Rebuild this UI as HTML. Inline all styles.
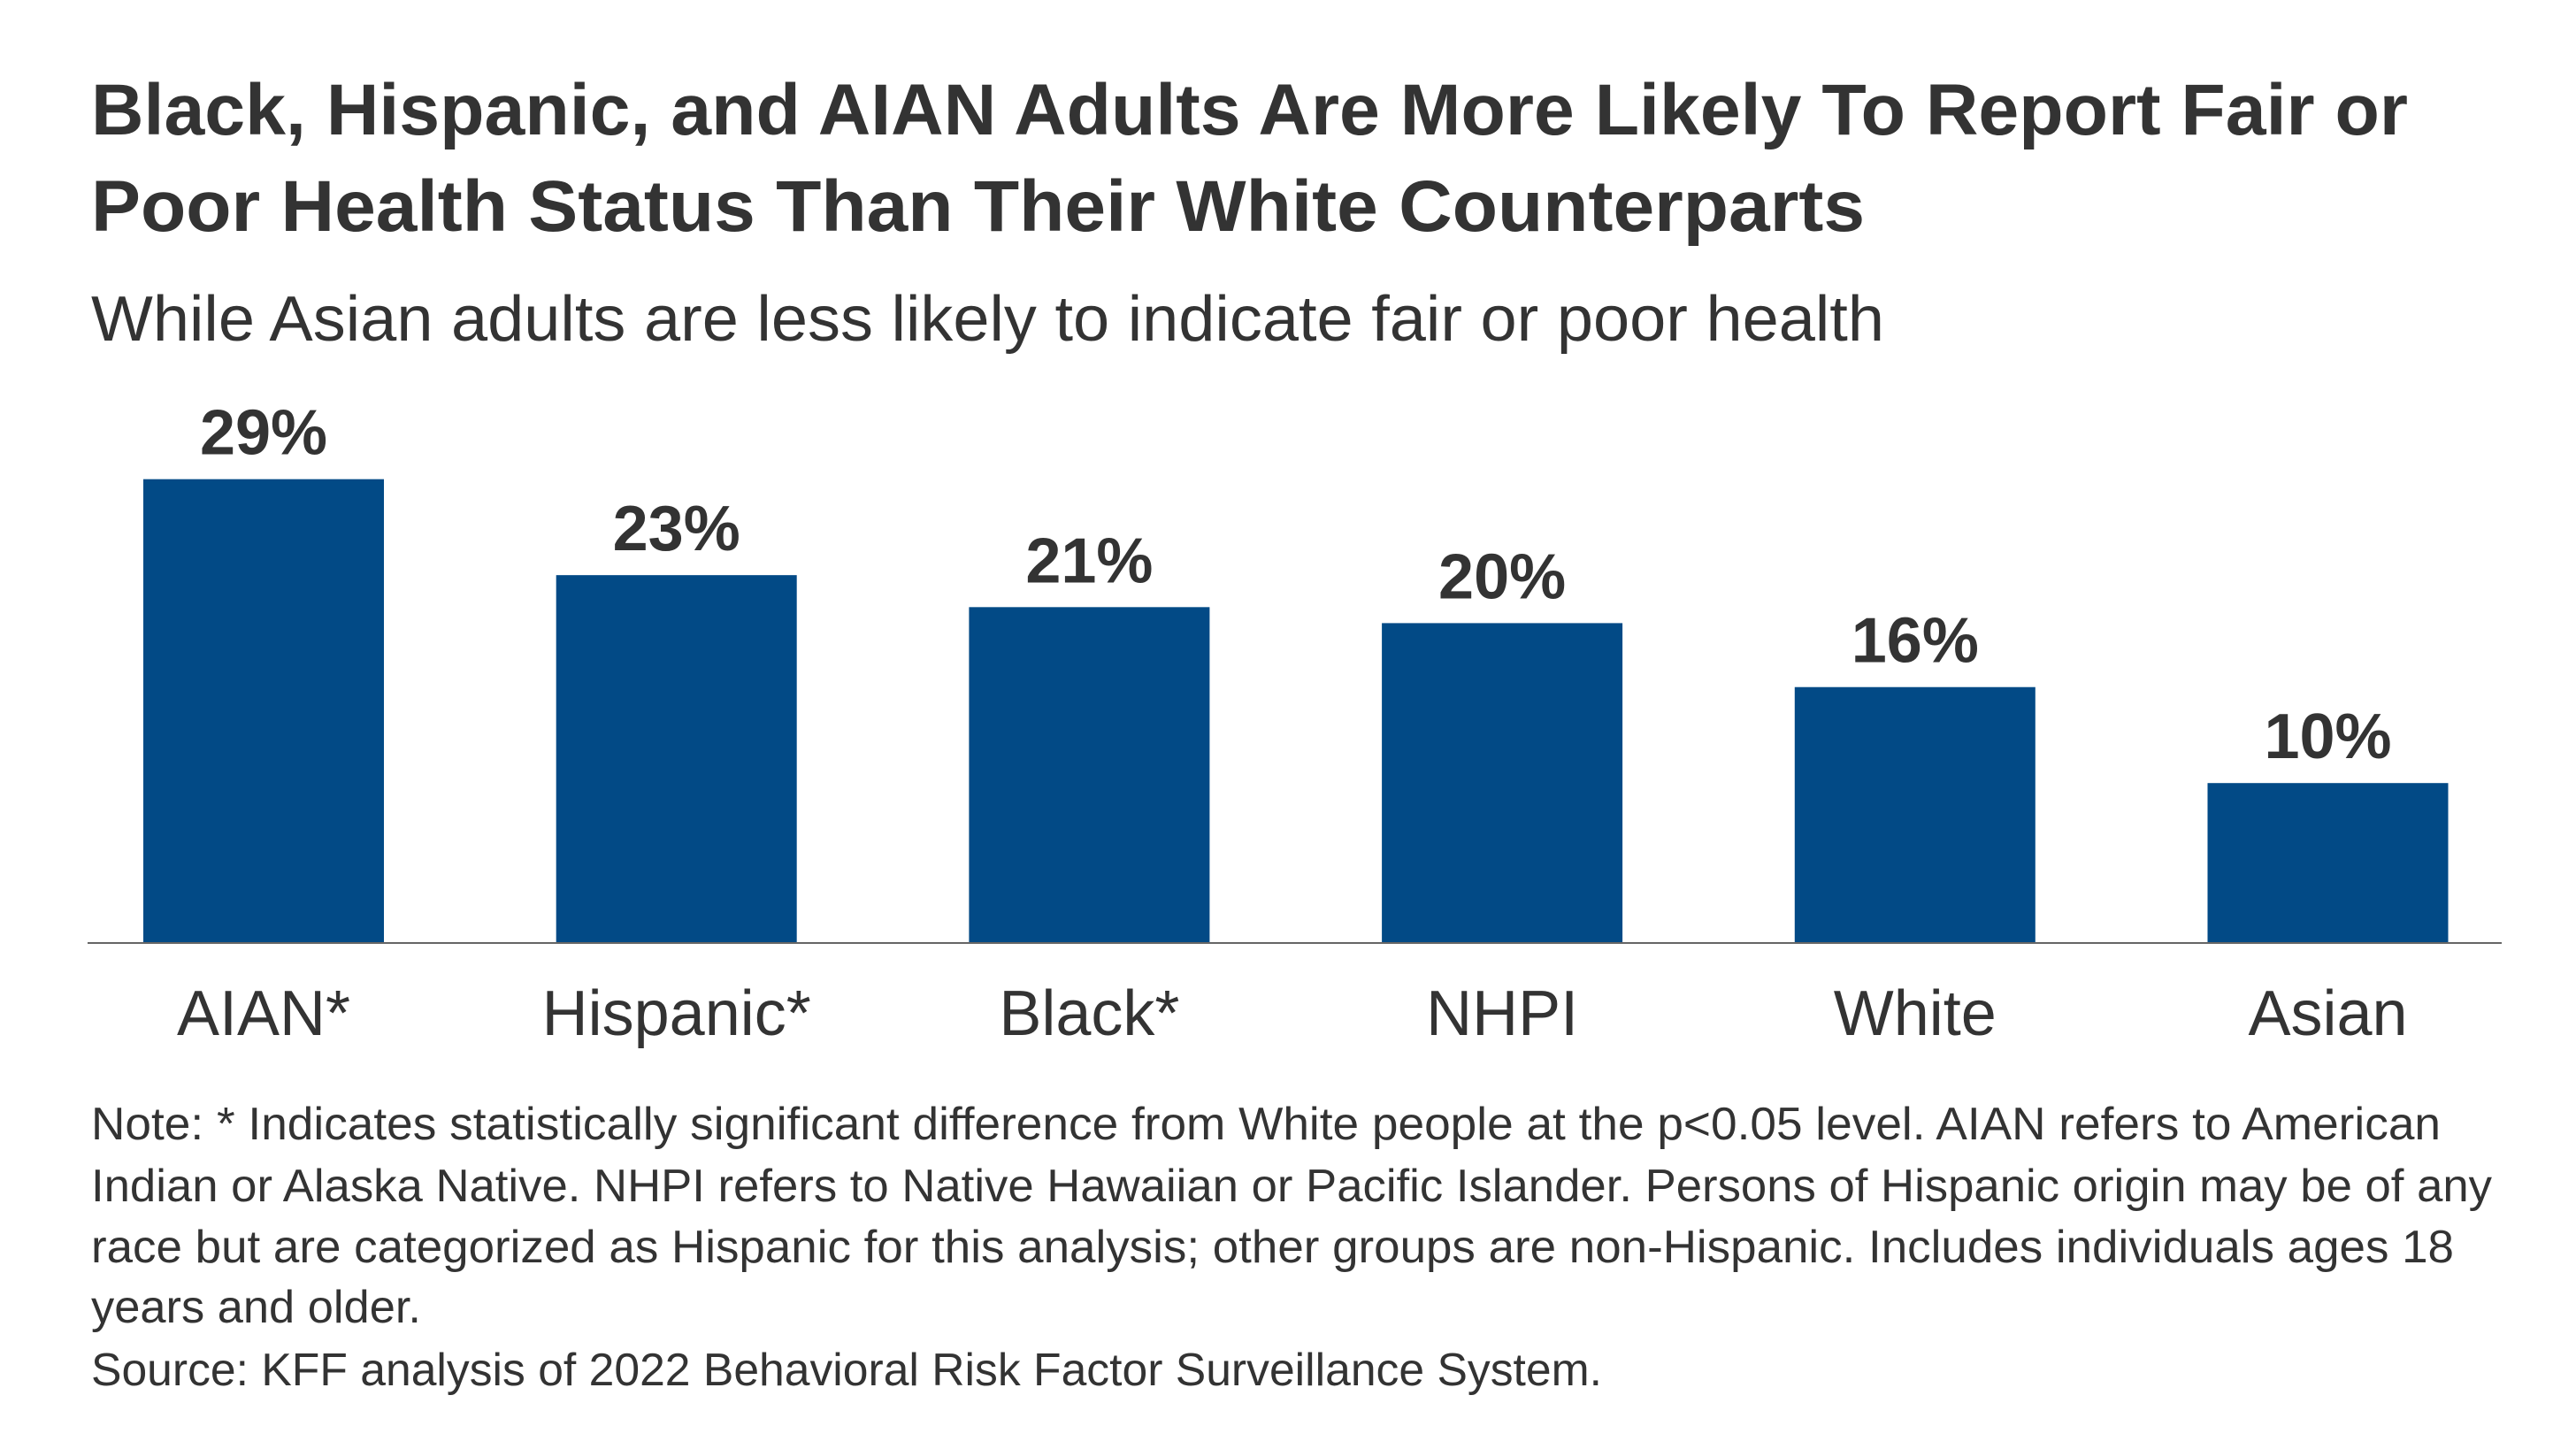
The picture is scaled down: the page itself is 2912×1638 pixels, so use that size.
<!DOCTYPE html>
<html><head><meta charset="utf-8"><style>
html,body{margin:0;padding:0;background:#fff;}
svg{display:block;font-family:"Liberation Sans",sans-serif;}
</style></head><body>
<svg id="chart" width="2912" height="1638" viewBox="0 0 2912 1638" xmlns="http://www.w3.org/2000/svg">
<rect width="2912" height="1638" fill="#fff"/>
<text x="103" y="152" font-size="82" font-weight="bold" fill="#333" textLength="2619" lengthAdjust="spacingAndGlyphs">Black, Hispanic, and AIAN Adults Are More Likely To Report Fair or</text>
<text x="103" y="261" font-size="82" font-weight="bold" fill="#333" textLength="2005" lengthAdjust="spacingAndGlyphs">Poor Health Status Than Their White Counterparts</text>
<text x="103" y="385" font-size="72" fill="#333" textLength="2027" lengthAdjust="spacingAndGlyphs">While Asian adults are less likely to indicate fair or poor health</text>
<g id="bars"></g>
<line x1="99" y1="1066" x2="2828" y2="1066" stroke="#666" stroke-width="2"/>
<g font-size="52" fill="#333">
<text x="103" y="1288" textLength="2656" lengthAdjust="spacingAndGlyphs">Note: * Indicates statistically significant difference from White people at the p&lt;0.05 level. AIAN refers to American</text>
<text x="103" y="1358" textLength="2714" lengthAdjust="spacingAndGlyphs">Indian or Alaska Native. NHPI refers to Native Hawaiian or Pacific Islander. Persons of Hispanic origin may be of any</text>
<text x="103" y="1427" textLength="2671" lengthAdjust="spacingAndGlyphs">race but are categorized as Hispanic for this analysis; other groups are non-Hispanic. Includes individuals ages 18</text>
<text x="103" y="1495" textLength="373" lengthAdjust="spacingAndGlyphs">years and older.</text>
<text x="103" y="1566" textLength="1708" lengthAdjust="spacingAndGlyphs">Source: KFF analysis of 2022 Behavioral Risk Factor Surveillance System.</text>
</g>
</svg>
<script>
const categories = ["AIAN*", "Hispanic*", "Black*", "NHPI", "White", "Asian"];
const values = [29, 23, 21, 20, 16, 10];
const valueLabels = ["29%", "23%", "21%", "20%", "16%", "10%"];

const NS = "http://www.w3.org/2000/svg";
const baseY = 1066, pxPerUnit = 18.08, firstX = 162, pitch = 466.7, barW = 272;
function xPos(i){ return firstX + i * pitch; }
function yPos(v){ return baseY - v * pxPerUnit; }
const g = document.getElementById("bars");
categories.forEach((c, i) => {
  const x = xPos(i), y = yPos(values[i]);
  const r = document.createElementNS(NS, "rect");
  r.setAttribute("x", x); r.setAttribute("y", y);
  r.setAttribute("width", barW); r.setAttribute("height", baseY - y);
  r.setAttribute("fill", "#024a86");
  
  
  g.appendChild(r);
  const t = document.createElementNS(NS, "text");
  t.setAttribute("x", x + barW / 2); t.setAttribute("y", y - 28);
  t.setAttribute("text-anchor", "middle"); t.setAttribute("font-size", "72");
  t.setAttribute("font-weight", "bold"); t.setAttribute("fill", "#333");
  t.textContent = valueLabels[i];
  
  
  g.appendChild(t);
  const l = document.createElementNS(NS, "text");
  l.setAttribute("x", x + barW / 2); l.setAttribute("y", 1170);
  l.setAttribute("text-anchor", "middle"); l.setAttribute("font-size", "72");
  l.setAttribute("fill", "#333");
  l.textContent = c;
  
  
  g.appendChild(l);
});
</script>
</body></html>
